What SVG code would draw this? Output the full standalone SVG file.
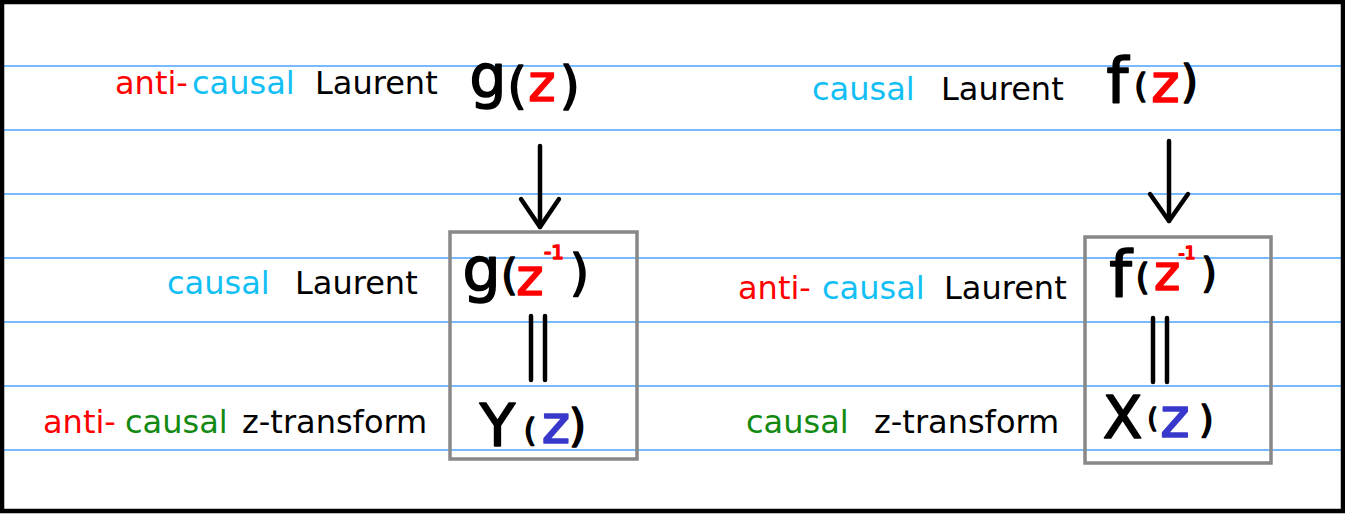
<svg xmlns="http://www.w3.org/2000/svg" width="1345" height="514" viewBox="0 0 1345 514">
<style>
.lbl{font-family:"DejaVu Sans","Liberation Sans",sans-serif;font-size:32px}
.m{font-family:"DejaVu Sans","Liberation Sans",sans-serif;text-anchor:middle;stroke-width:1.6;stroke-linejoin:round;stroke-linecap:round}
.red{fill:#ff0000}.cyan{fill:#12bff5}.green{fill:#128a12}.blk{fill:#000}.blue{fill:#3838cc}
.m .red{stroke:#ff0000}.m .blk{stroke:#000}.m .blue{stroke:#3838cc}
.rule{stroke:#4aa3ff;stroke-width:1.5}
.box{fill:none;stroke:#888;stroke-width:3.5}
.conn{stroke:#000;stroke-width:4.5;stroke-linecap:round;stroke-linejoin:round;fill:none}
</style>
<rect x="0" y="0" width="1345" height="514" fill="#fff"/>
<g id="ruling">
<line class="rule" x1="4" y1="66" x2="1341" y2="66"/>
<line class="rule" x1="4" y1="130" x2="1341" y2="130"/>
<line class="rule" x1="4" y1="194" x2="1341" y2="194"/>
<line class="rule" x1="4" y1="258" x2="1341" y2="258"/>
<line class="rule" x1="4" y1="322" x2="1341" y2="322"/>
<line class="rule" x1="4" y1="386" x2="1341" y2="386"/>
<line class="rule" x1="4" y1="450" x2="1341" y2="450"/>
</g>
<rect x="2" y="2" width="1341" height="509" fill="none" stroke="#000" stroke-width="4.5"/>

<g id="label-top-left">
<text class="lbl" x="115" y="94"><tspan class="red">anti-</tspan><tspan class="cyan" x="192">causal</tspan><tspan class="blk" x="315">Laurent</tspan></text>
</g>
<g id="label-top-right">
<text class="lbl" x="812" y="100"><tspan class="cyan">causal</tspan><tspan class="blk" x="941">Laurent</tspan></text>
</g>
<g id="label-mid-left">
<text class="lbl" x="167" y="294"><tspan class="cyan">causal</tspan><tspan class="blk" x="295">Laurent</tspan></text>
</g>
<g id="label-mid-right">
<text class="lbl" x="738" y="299"><tspan class="red">anti-</tspan><tspan class="cyan" x="822">causal</tspan><tspan class="blk" x="944">Laurent</tspan></text>
</g>
<g id="label-bot-left">
<text class="lbl" x="43" y="433"><tspan class="red">anti-</tspan><tspan class="green" x="125">causal</tspan><tspan class="blk" x="242">z-transform</tspan></text>
</g>
<g id="label-bot-right">
<text class="lbl" x="746" y="433"><tspan class="green">causal</tspan><tspan class="blk" x="874">z-transform</tspan></text>
</g>

<g id="node-g-z">
<text class="m"><tspan class="blk" x="488" y="97" font-size="58">g</tspan><tspan class="blk" x="517" y="102.5" font-size="50">(</tspan><tspan class="red" x="542" y="101" font-size="52">z</tspan><tspan class="blk" x="570" y="102.5" font-size="52">)</tspan></text>
</g>
<g id="node-f-z">
<text class="m"><tspan class="blk" x="1117.5" y="102" font-size="62">f</tspan><tspan class="blk" x="1141" y="98" font-size="34">(</tspan><tspan class="red" x="1165.5" y="102" font-size="54">z</tspan><tspan class="blk" x="1189.5" y="97" font-size="45">)</tspan></text>
</g>

<g id="box-left">
<rect class="box" x="450" y="232" width="187" height="227"/>
<g id="node-g-zinv">
<text class="m"><tspan class="blk" x="481.5" y="290" font-size="60">g</tspan><tspan class="blk" x="509.5" y="290" font-size="43">(</tspan><tspan class="red" x="530" y="295" font-size="52">z</tspan><tspan class="red" x="554" y="259" font-size="20">-1</tspan><tspan class="blk" x="579.5" y="290" font-size="50">)</tspan></text>
</g>
<g id="node-Y-z">
<text class="m"><tspan class="blk" x="497.5" y="446" font-size="58">Y</tspan><tspan class="blk" x="530" y="441" font-size="32">(</tspan><tspan class="blue" x="556" y="443" font-size="54">z</tspan><tspan class="blk" x="577.5" y="441" font-size="45">)</tspan></text>
</g>
</g>

<g id="box-right">
<rect class="box" x="1085" y="237" width="186" height="226"/>
<g id="node-f-zinv">
<text class="m"><tspan class="blk" x="1120.5" y="297" font-size="64">f</tspan><tspan class="blk" x="1142.5" y="289" font-size="35">(</tspan><tspan class="red" x="1167" y="290" font-size="50">z</tspan><tspan class="red" x="1187" y="259" font-size="17">-1</tspan><tspan class="blk" x="1209" y="287" font-size="40">)</tspan></text>
</g>
<g id="node-X-z">
<text class="m"><tspan class="blk" x="1122.5" y="438" font-size="58">X</tspan><tspan class="blk" x="1152.5" y="427" font-size="26">(</tspan><tspan class="blue" x="1175" y="437" font-size="56">z</tspan><tspan class="blk" x="1206.5" y="433" font-size="37">)</tspan></text>
</g>
</g>

<g id="connectors">
<line class="conn" x1="540" y1="146" x2="540" y2="227"/>
<polyline class="conn" points="521,199 540,227 559,199"/>
<line class="conn" x1="1169" y1="141" x2="1169" y2="221"/>
<polyline class="conn" points="1150,194 1169,221 1188,194"/>
<line class="conn" x1="531" y1="316" x2="531" y2="380"/>
<line class="conn" x1="545" y1="316" x2="545" y2="380"/>
<line class="conn" x1="1153" y1="318" x2="1153" y2="382"/>
<line class="conn" x1="1167" y1="318" x2="1167" y2="382"/>
</g>
</svg>
